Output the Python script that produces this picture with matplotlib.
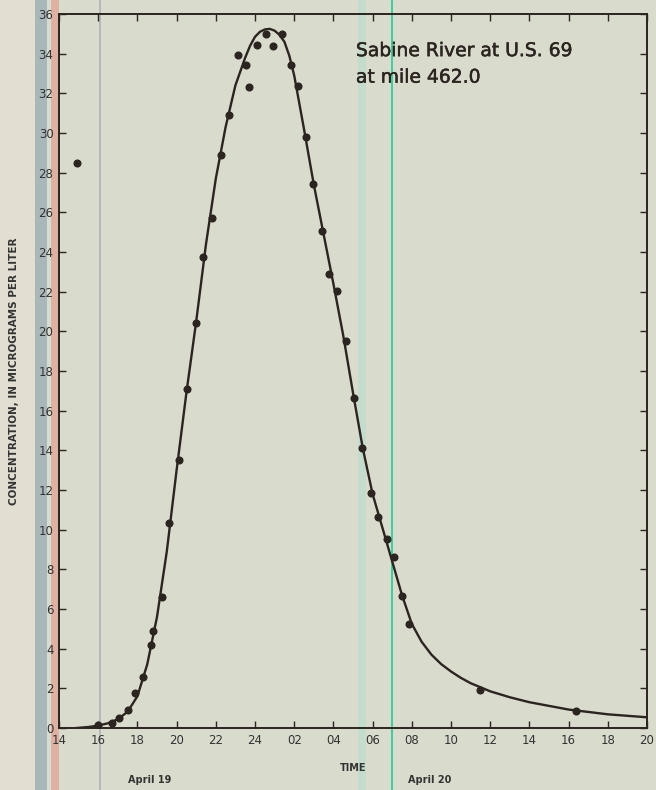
import matplotlib
matplotlib.use("Agg")
import matplotlib.pyplot as plt
import matplotlib.patheffects as pe
from matplotlib.patches import Rectangle

# measured concentrations (hours since 00:00 April 19, ug/L)
obs_hours = [14.93, 16.0, 16.69, 17.08, 17.5, 17.86, 18.3, 18.69, 18.81, 19.26,
             19.63, 20.1, 20.55, 20.99, 21.33, 21.79, 22.27, 22.67, 23.12, 23.54,
             23.71, 24.12, 24.56, 24.93, 25.39, 25.82, 26.18, 26.6, 26.97, 27.4,
             27.79, 28.2, 28.64, 29.03, 29.44, 29.9, 30.29, 30.72, 31.09, 31.48,
             31.87, 35.48, 40.36]
obs_conc = [28.5, 0.15, 0.27, 0.52, 0.91, 1.75, 2.59, 4.19, 4.91, 6.59,
            10.35, 13.51, 17.09, 20.41, 23.77, 25.7, 28.9, 30.91, 33.94, 33.43,
            32.31, 34.44, 35.0, 34.41, 34.98, 33.43, 32.37, 29.82, 27.43, 25.06,
            22.89, 22.05, 19.53, 16.63, 14.13, 11.87, 10.66, 9.51, 8.61, 6.66,
            5.23, 1.92, 0.86]

# fitted curve
curve_hours = [14.9, 15.5, 16.0, 16.5, 17.0, 17.5, 18.0, 18.5, 19.0, 19.5,
               20.0, 20.5, 21.0, 21.5, 22.0, 22.5, 23.0, 23.5, 23.75, 24.0,
               24.25, 24.5, 24.75, 25.0, 25.25, 25.5, 25.75, 26.0, 26.5, 27.0,
               27.5, 28.0, 28.5, 29.0, 29.5, 30.0, 30.5, 31.0, 31.5, 32.0,
               32.5, 33.0, 33.5, 34.0, 34.5, 35.0, 36.0, 37.0, 38.0, 40.0,
               42.0, 44.0]
curve_conc = [0.0, 0.05, 0.12, 0.24, 0.44, 0.82, 1.6, 3.2, 5.6, 8.9,
              13.0, 16.9, 20.5, 24.4, 27.7, 30.3, 32.4, 33.8, 34.4, 34.85,
              35.1, 35.22, 35.25, 35.16, 34.95, 34.6, 33.9, 32.9, 30.2, 27.4,
              24.9, 22.4, 19.8, 16.9, 14.1, 11.8, 10.1, 8.4, 6.7, 5.25,
              4.35, 3.7, 3.22, 2.85, 2.53, 2.26, 1.85, 1.55, 1.3, 0.93,
              0.69, 0.54]

x_ticks = list(range(14, 45, 2))
x_labels = ["14", "16", "18", "20", "22", "24", "02", "04", "06", "08",
            "10", "12", "14", "16", "18", "20"]
y_ticks = list(range(0, 37, 2))

paper = "#d9dbcc"
ink = "#2b2420"

fig = plt.figure(figsize=(6.56, 7.9), dpi=100, facecolor=paper)

# scan streaks on the original sheet
for x0, w, c in [(0, 35, "#e2dfd2"), (35, 12, "#a9b7b9"), (47, 4, "#d5ddd0"),
                 (51, 8, "#dfb1a2"), (99, 2, "#b7b6bb"), (358, 8, "#c4dccb"),
                 (391, 2, "#3fcf9f")]:
    fig.add_artist(Rectangle((x0 / 656, 0), w / 656, 1, transform=fig.transFigure,
                             facecolor=c, edgecolor="none", zorder=-5))

ax = fig.add_axes([59 / 656, 1 - 728 / 790, 588 / 656, 714 / 790])
ax.set_facecolor("none")

ax.plot(curve_hours, curve_conc, color=ink, lw=1.7, zorder=3,
        solid_joinstyle="round")
ax.plot(obs_hours, obs_conc, "o", color=ink, ms=4.8, zorder=4)

ax.set_xlim(14, 44)
ax.set_ylim(0, 36)
ax.set_xticks(x_ticks)
ax.set_xticklabels(x_labels)
ax.set_yticks(y_ticks)
ax.tick_params(direction="in", length=5, width=1.0, color=ink, labelcolor="#333",
               labelsize=8.5, top=True, right=True, pad=4)
for s in ax.spines.values():
    s.set_color(ink)
    s.set_linewidth(1.4)

ax.set_ylabel("CONCENTRATION, IN MICROGRAMS PER LITER", fontsize=7.5,
              fontweight="bold", color="#333", labelpad=14)
ax.set_xlabel("TIME", fontsize=7, fontweight="bold", color="#333", labelpad=12)

ax.text(0.505, 0.962, "Sabine River at U.S. 69\nat mile 462.0", transform=ax.transAxes,
        ha="left", va="top", fontsize=13.5, color=ink, linespacing=1.5,
        path_effects=[pe.withStroke(linewidth=0.35, foreground=ink)])

fig.text(150 / 656, 1 - 780 / 790, "April 19", fontsize=7, fontweight="bold",
         color="#333", ha="center", va="center")
fig.text(430 / 656, 1 - 780 / 790, "April 20", fontsize=7, fontweight="bold",
         color="#333", ha="center", va="center")

fig.savefig("out.png", dpi=100, facecolor=paper)
